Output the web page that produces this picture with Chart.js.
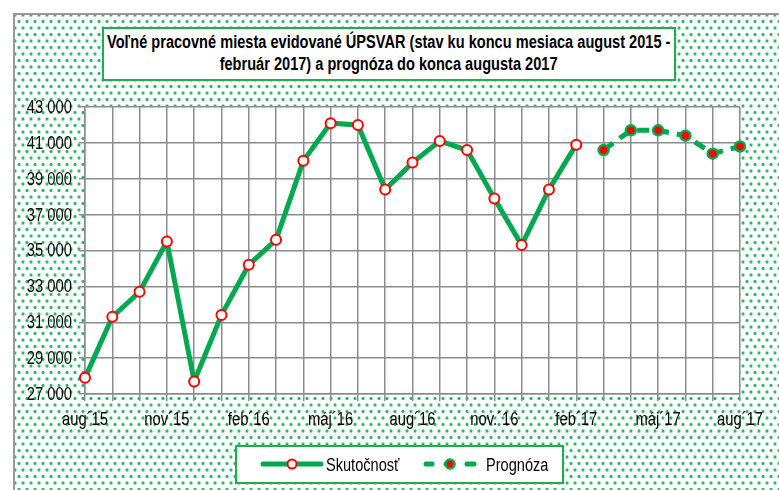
<!DOCTYPE html>
<html>
<head>
<meta charset="utf-8">
<script src="https://cdn.jsdelivr.net/npm/chart.js@4.4.1/dist/chart.umd.min.js"></script>
<style>
  body { margin: 0; background: #fff; }
  #wrap { position: relative; width: 779px; height: 490px; overflow: hidden; background: #fff; }
  /* dotted green background inside gray frame */
  #frame {
    position: absolute; left: 13px; top: 13px; width: 780px; height: 490px;
    border: 2px solid #999;
    background-color: #fff;
    background-image:
      radial-gradient(circle, rgba(30,180,95,1) 1px, rgba(30,180,95,0.4) 1.6px, transparent 2.1px),
      radial-gradient(circle, rgba(30,180,95,1) 1px, rgba(30,180,95,0.4) 1.6px, transparent 2.1px);
    background-size: 8px 13px, 8px 13px;
    background-position: 0 0, 4px 6.5px;
  }
  #chart { position: absolute; left: 0; top: 0; }
  .box { position: absolute; background: #fff; border: 2px solid #1fae4e; box-sizing: border-box; }
  .narrow { display: inline-block; white-space: nowrap; transform: scaleX(0.81); }
  #title {
    left: 102px; top: 27px; width: 574px; height: 54px;
    font: bold 18px "Liberation Sans", Arial, sans-serif; color: #000;
  }
  #title div { position: absolute; left: -300px; width: 1170px; text-align: center; }
  #legend { left: 235px; top: 445px; width: 329px; height: 39px;
    font: 18px "Liberation Sans", Arial, sans-serif; color: #000; }
  #legend canvas { position: absolute; left: 0; top: 0; }
  #legend span.lbl { position: absolute; top: 8px; transform-origin: 0 50%; }
</style>
</head>
<body>
<div id="wrap">
  <div id="frame"></div>
  <canvas id="chart" width="779" height="490"></canvas>
  <div id="title" class="box">
    <div style="top:3px"><span class="narrow">Voľné pracovné miesta evidované ÚPSVAR (stav ku koncu mesiaca august 2015 -</span></div>
    <div style="top:25px"><span class="narrow">február 2017) a prognóza do konca augusta 2017</span></div>
  </div>
  <div id="legend" class="box">
    <canvas id="legendIcons" width="325" height="35"></canvas>
    <span class="lbl narrow" style="left:89px">Skutočnosť</span>
    <span class="lbl narrow" style="left:249px">Prognóza</span>
  </div>
</div>
<script>
// months aug 2015 - aug 2017
const months = ['aug´15', 'sep´15', 'okt´15', 'nov´15', 'dec´15', 'jan´16', 'feb´16', 'mar´16', 'apr´16',
  'máj´16', 'jún´16', 'júl´16', 'aug´16', 'sep´16', 'okt´16', 'nov.´16', 'dec´16', 'jan´17', 'feb´17',
  'mar´17', 'apr´17', 'máj´17', 'jún´17', 'júl´17', 'aug´17'];

// actual values aug'15 - feb'17
const skutocnost = [27900, 31300, 32700, 35500, 27700, 31400, 34200, 35600, 40000, 42100,
  42000, 38400, 39900, 41100, 40600, 37900, 35300, 38400, 40900];

// forecast mar'17 - aug'17
const prognoza = [40600, 41700, 41700, 41400, 40400, 40800];

const yMin = 27000, yMax = 43000, yStep = 2000;

const GREEN = '#00a84f';
const GRID = '#8c8c8c';
const FONT = '18px "Liberation Sans", Arial, sans-serif';
const SQUEEZE = 0.82; // narrow font look

const actualData = months.map((m, i) => i < skutocnost.length ? skutocnost[i] : null);
const offset = months.length - prognoza.length;
const forecastData = months.map((m, i) => i >= offset ? prognoza[i - offset] : null);

// white plot area
const plotBg = {
  id: 'plotBg',
  beforeDraw(chart) {
    const { ctx, chartArea: a } = chart;
    ctx.save();
    ctx.fillStyle = '#fff';
    ctx.fillRect(a.left, a.top, a.right - a.left, a.bottom - a.top);
    ctx.restore();
  }
};

// condensed tick labels, placed from the scales
function narrowText(ctx, txt, x, y, align) {
  const w = ctx.measureText(txt).width * SQUEEZE;
  const left = align === 'right' ? x - w : align === 'center' ? x - w / 2 : x;
  ctx.save();
  ctx.translate(left, y);
  ctx.scale(SQUEEZE, 1);
  ctx.fillText(txt, 0, 0);
  ctx.restore();
}
const tickLabels = {
  id: 'tickLabels',
  afterDraw(chart) {
    const { ctx, scales: { x, y } } = chart;
    ctx.save();
    ctx.font = FONT;
    ctx.fillStyle = '#000';
    ctx.textAlign = 'left';
    ctx.textBaseline = 'middle';
    y.ticks.forEach(t => {
      const lbl = t.value.toLocaleString('en-US').replace(',', ' ');
      narrowText(ctx, lbl, 72, y.getPixelForValue(t.value) + 1, 'right');
    });
    ctx.textBaseline = 'alphabetic';
    x.ticks.forEach((t, i) => {
      if (i % 3 === 0) narrowText(ctx, months[i], x.getPixelForTick(i), 425, 'center');
    });
    ctx.restore();
  }
};

new Chart(document.getElementById('chart'), {
  type: 'line',
  data: {
    labels: months,
    datasets: [{
      label: 'Skutočnosť',
      data: actualData,
      borderColor: GREEN,
      borderWidth: 5,
      pointRadius: 5,
      pointBackgroundColor: '#fff',
      pointBorderColor: '#ff0000',
      pointBorderWidth: 2,
      tension: 0
    }, {
      label: 'Prognóza',
      data: forecastData,
      borderColor: GREEN,
      borderWidth: 5,
      borderDash: [12, 8],
      pointRadius: 5,
      pointBackgroundColor: '#ff0000',
      pointBorderColor: GREEN,
      pointBorderWidth: 2.5,
      tension: 0
    }]
  },
  options: {
    responsive: false,
    animation: false,
    layout: { padding: { left: 0, top: 107, right: 39, bottom: 0 } },
    plugins: { legend: { display: false }, title: { display: false }, tooltip: { enabled: false } },
    scales: {
      x: {
        afterFit(s) { s.height = 96; },
        grid: { color: GRID, lineWidth: 1.5, tickLength: 7, drawTicks: true },
        border: { color: GRID, width: 1.5 },
        ticks: { display: false, autoSkip: false, maxRotation: 0 }
      },
      y: {
        min: yMin, max: yMax,
        afterFit(s) { s.width = 85; },
        grid: { color: GRID, lineWidth: 1.5, tickLength: 6 },
        border: { color: GRID, width: 1.5 },
        ticks: { display: false, stepSize: yStep }
      }
    }
  },
  plugins: [plotBg, tickLabels]
});

// legend samples
(function () {
  const c = document.getElementById('legendIcons').getContext('2d');
  c.lineCap = 'round';
  c.strokeStyle = GREEN;
  c.lineWidth = 5;
  c.beginPath(); c.moveTo(26, 17); c.lineTo(84, 17); c.stroke();
  c.beginPath(); c.arc(55, 17, 4.5, 0, Math.PI * 2);
  c.fillStyle = '#fff'; c.fill(); c.strokeStyle = '#ff0000'; c.lineWidth = 2; c.stroke();
  c.strokeStyle = GREEN; c.lineWidth = 5;
  [[189, 195], [209, 216], [230, 237]].forEach(([a, b]) => {
    c.beginPath(); c.moveTo(a, 17); c.lineTo(b, 17); c.stroke();
  });
  c.beginPath(); c.arc(213, 17, 4.5, 0, Math.PI * 2);
  c.fillStyle = '#ff0000'; c.fill(); c.strokeStyle = GREEN; c.lineWidth = 2.5; c.stroke();
})();
</script>
</body>
</html>
